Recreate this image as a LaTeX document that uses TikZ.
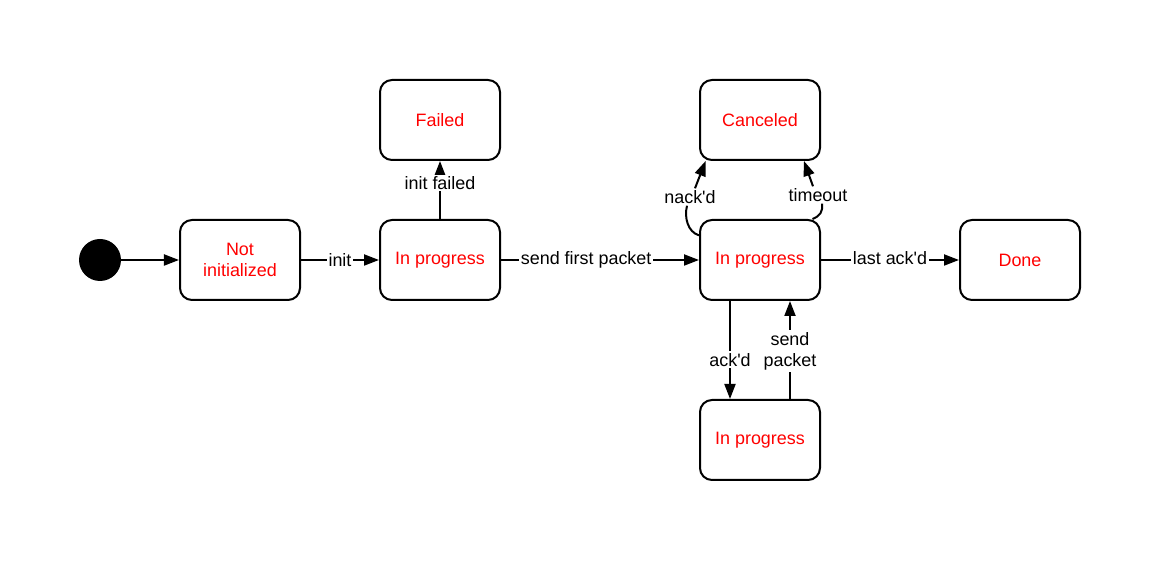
\documentclass[tikz,border=0pt]{standalone}
\usepackage{fontspec}
\setmainfont{Liberation Sans}
\usetikzlibrary{arrows.meta}

\begin{document}
\begin{tikzpicture}[x=0.2mm, y=-0.2mm, % one unit is one pixel of the sketch, y goes down
    state/.style={draw, rounded corners=2.4mm, line width=0.4mm, minimum width=24mm, minimum height=16mm,
        text=red, align=center, font=\fontsize{10.2}{12}\selectfont},
    trans/.style={line width=0.4mm, -{Triangle[length=3mm,width=2.2mm]}},
    edge/.style={line width=0.4mm},
    lbl/.style={fill=white, inner sep=1pt, align=center, font=\fontsize{10.2}{12}\selectfont}]
            % Fix the page size
            \useasboundingbox (0,0) rectangle (1167,567);
            % Initial state
            \node[circle, fill, minimum size=8.4mm, inner sep=0pt] (start) at (100,260) {};
            % States
            \node[state] (notinit) at (240,260) {Not\\initialized};
            \node[state] (prog1) at (440,260) {In progress};
            \node[state] (failed) at (440,120) {Failed};
            \node[state] (prog2) at (760,260) {In progress};
            \node[state] (cancel) at (760,120) {Canceled};
            \node[state] (done) at (1020,260) {Done};
            \node[state] (prog3) at (760,440) {In progress};

            % Transitions along the main row
            \draw[trans] (start) -- (notinit);
            \draw[trans] (notinit) -- node[lbl] {init} (prog1);
            \draw[trans] (prog1) -- node[lbl, pos=.43] {send first packet} (prog2);
            \draw[trans] (prog2) -- node[lbl, yshift=.3mm] {last ack\textquotesingle d} (done);
            \draw[trans] (prog1) -- node[lbl, pos=.62] {init failed} (failed);

            % Loop through the lower state
            \draw[trans] ([xshift=-6mm]prog2.south) -- node[lbl, pos=.6] {ack\textquotesingle d} ([xshift=-6mm]prog3.north);
            \draw[trans] ([xshift=6mm]prog3.north) -- node[lbl, pos=.49] {send\\packet} ([xshift=6mm]prog2.south);

            % Canceling
            \node[lbl] (nackd) at (690,197) {nack\textquotesingle d};
            \node[lbl] (tmout) at (818,195) {timeout};
            \draw[edge] (prog2.158) .. controls (688,232) and (684,218) .. ([xshift=-.6mm]nackd.south);
            \draw[trans] ([xshift=1mm]nackd.north) -- (cancel.217);
            \draw[edge] (prog2.38) .. controls (820,216) and (823,212) .. ([xshift=.8mm]tmout.south);
            \draw[trans] ([xshift=-1mm]tmout.north) -- (cancel.317);
        \end{tikzpicture}
\end{document}
